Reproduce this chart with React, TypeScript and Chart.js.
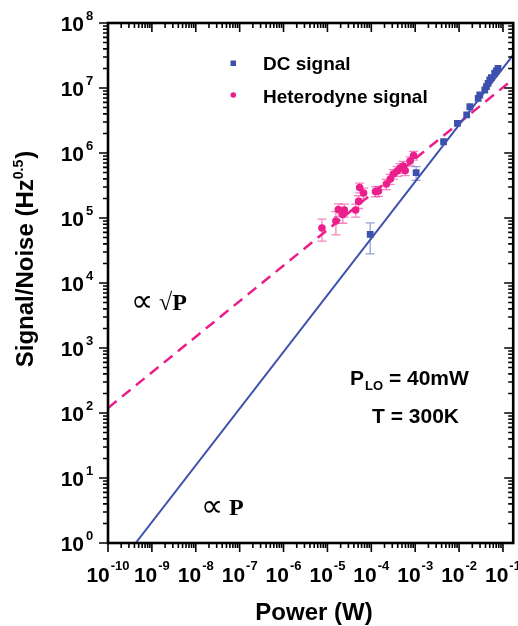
import React, { useEffect, useRef } from "react";
import { Chart, registerables } from "chart.js";
Chart.register(...registerables);

// ---- data ----
const dcPower = [9.44e-5, 1.05e-3, 4.43e-3, 9.16e-3, 1.49e-2, 1.76e-2, 2.72e-2, 2.96e-2, 3.85e-2, 4.2e-2, 4.58e-2, 4.99e-2, 5.44e-2, 6.46e-2, 7.06e-2, 7.71e-2];
const dcSignal = [5.61e4, 4.98e5, 1.49e6, 2.86e6, 3.85e6, 5.15e6, 6.93e6, 7.8e6, 9.31e6, 1.05e7, 1.18e7, 1.33e7, 1.44e7, 1.68e7, 1.83e7, 2.01e7];
const dcErr = [2.8e4, 1.2e5, 0, 0, 0, 0, 0, 0, 0, 0, 0, 0, 0, 0, 0, 0];

const hetPower = [7.5e-6, 1.56e-5, 1.77e-5, 2.42e-5, 2.24e-5, 4.4e-5, 5.14e-5, 5.42e-5, 6.67e-5, 1.245e-4, 1.455e-4, 2.2e-4, 2.71e-4, 3.17e-4, 3.9e-4, 4.56e-4, 5.33e-4, 5.92e-4, 7.67e-4, 9.2e-4];
const hetSignal = [7.0e4, 9.0e4, 1.35e5, 1.33e5, 1.13e5, 1.33e5, 1.8e5, 2.94e5, 2.43e5, 2.56e5, 2.6e5, 3.33e5, 3.98e5, 4.75e5, 5.28e5, 5.87e5, 6.31e5, 5.38e5, 7.53e5, 9.16e5];
const hetErr = [2.6e4, 3.5e4, 3.0e4, 3.0e4, 3.0e4, 3.0e4, 4.0e4, 5.0e4, 4.5e4, 4.5e4, 4.5e4, 6.0e4, 7.0e4, 8.0e4, 9.0e4, 1.0e5, 1.1e5, 9.0e4, 1.2e5, 1.4e5];

const dcFitPower = [4.27e-10, 0.171];
const dcFitSignal = [1, 3.23e7];
const hetFitPower = [1e-10, 0.171];
const hetFitSignal = [119.4, 1.37e7];

const xTickExps = [-10, -9, -8, -7, -6, -5, -4, -3, -2, -1];
const yTickExps = [0, 1, 2, 3, 4, 5, 6, 7, 8];

const xTitle = "Power (W)";
const yTitle = "Signal/Noise (Hz";
const yTitleSup = "0.5";
const legendLabels = ["DC signal", "Heterodyne signal"];

const PINK = "#EB1E8C";
const BLUE = "#3E50AE";
const SANS = '"Liberation Sans", Arial, sans-serif';
const SERIF = '"Liberation Serif", "DejaVu Serif", serif';

const pts = (xs: number[], ys: number[]) => xs.map((x, i) => ({ x, y: ys[i] }));

const errorBarPlugin = {
  id: "errbars",
  beforeDatasetsDraw(chart: any) {
    const { ctx, scales } = chart;
    const xs = scales.x, ys = scales.y;
    const draw = (px: number[], py: number[], pe: number[], color: string) => {
      ctx.save();
      ctx.strokeStyle = color;
      ctx.lineWidth = 1.3;
      px.forEach((p, i) => {
        if (!pe[i]) return;
        const x = xs.getPixelForValue(p);
        const yt = ys.getPixelForValue(py[i] + pe[i]);
        const yb = ys.getPixelForValue(Math.max(py[i] - pe[i], 1e-3));
        ctx.beginPath();
        ctx.moveTo(x, yt); ctx.lineTo(x, yb);
        ctx.moveTo(x - 4.5, yt); ctx.lineTo(x + 4.5, yt);
        ctx.moveTo(x - 4.5, yb); ctx.lineTo(x + 4.5, yb);
        ctx.stroke();
      });
      ctx.restore();
    };
    draw(hetPower, hetSignal, hetErr, "rgba(235,30,140,0.55)");
    draw(dcPower, dcSignal, dcErr, "rgba(62,80,174,0.55)");
  },
};

const framePlugin = {
  id: "frame",
  afterDatasetsDraw(chart: any) {
    const { ctx, chartArea: a, scales } = chart;
    const xs = scales.x, ys = scales.y;
    ctx.save();
    ctx.strokeStyle = "#000";
    ctx.lineCap = "butt";
    const majL = 9, minL = 5;
    ctx.lineWidth = 1.6;
    ctx.beginPath();
    for (let e = -10; e <= 0; e++) {
      for (let m = 1; m <= 9; m++) {
        const v = m * Math.pow(10, e);
        if (v < xs.min * 0.999 || v > xs.max) continue;
        const x = xs.getPixelForValue(v);
        const L = m === 1 ? majL : minL;
        ctx.moveTo(x, a.bottom); ctx.lineTo(x, a.bottom + L);
        ctx.moveTo(x, a.top); ctx.lineTo(x, a.top + L);
      }
    }
    for (let e = 0; e <= 8; e++) {
      for (let m = 1; m <= 9; m++) {
        const v = m * Math.pow(10, e);
        if (v > ys.max * 1.001) continue;
        const y = ys.getPixelForValue(v);
        const L = m === 1 ? majL : minL;
        ctx.moveTo(a.left, y); ctx.lineTo(a.left - L, y);
        ctx.moveTo(a.right, y); ctx.lineTo(a.right - L, y);
      }
    }
    ctx.stroke();
    ctx.lineWidth = 2.6;
    ctx.strokeRect(a.left, a.top, a.right - a.left, a.bottom - a.top);
    ctx.restore();
  },
  afterDraw(chart: any) {
    const { ctx, chartArea: a, scales } = chart;
    const xs = scales.x, ys = scales.y;
    ctx.save();
    ctx.fillStyle = "#000";
    ctx.textBaseline = "alphabetic";
    const baseFont = `bold 21px ${SANS}`;
    const supFont = `bold 13px ${SANS}`;
    // x tick labels
    xTickExps.forEach((e) => {
      const x = xs.getPixelForValue(Math.pow(10, e));
      ctx.font = baseFont;
      const wb = ctx.measureText("10").width;
      ctx.font = supFont;
      const sup = String(e);
      const ws = ctx.measureText(sup).width;
      const start = x - (wb + 1 + ws) / 2;
      ctx.textAlign = "left";
      ctx.font = baseFont;
      ctx.fillText("10", start, a.bottom + 39);
      ctx.font = supFont;
      ctx.fillText(sup, start + wb + 1, a.bottom + 27);
    });
    // y tick labels
    yTickExps.forEach((e) => {
      const y = ys.getPixelForValue(Math.pow(10, e));
      ctx.textAlign = "right";
      ctx.font = baseFont;
      ctx.fillText("10", a.left - 24, y + 7.5);
      ctx.textAlign = "left";
      ctx.font = supFont;
      ctx.fillText(String(e), a.left - 22, y - 3);
    });
    // x title
    ctx.textAlign = "center";
    ctx.font = `bold 24px ${SANS}`;
    ctx.fillText(xTitle, 314, 620);
    // y title (rotated)
    ctx.save();
    ctx.translate(33, 259);
    ctx.rotate(-Math.PI / 2);
    ctx.font = `bold 24px ${SANS}`;
    const w1 = ctx.measureText(yTitle).width;
    ctx.font = `bold 14px ${SANS}`;
    const w2 = ctx.measureText(yTitleSup).width;
    ctx.font = `bold 24px ${SANS}`;
    const w3 = ctx.measureText(")").width;
    const tot = w1 + w2 + w3 + 1;
    let sx = -tot / 2;
    ctx.textAlign = "left";
    ctx.fillText(yTitle, sx, 0);
    sx += w1;
    ctx.font = `bold 14px ${SANS}`;
    ctx.fillText(yTitleSup, sx, -10);
    sx += w2 + 1;
    ctx.font = `bold 24px ${SANS}`;
    ctx.fillText(")", sx, 0);
    ctx.restore();
    // legend
    ctx.fillStyle = BLUE;
    ctx.fillRect(230.5, 60.5, 5.5, 5.5);
    ctx.fillStyle = PINK;
    ctx.beginPath();
    ctx.arc(233.3, 95, 2.8, 0, Math.PI * 2);
    ctx.fill();
    ctx.fillStyle = "#000";
    ctx.textAlign = "left";
    ctx.font = `bold 19px ${SANS}`;
    ctx.fillText(legendLabels[0], 263, 70);
    ctx.fillText(legendLabels[1], 263, 102.5);
    // annotations
    ctx.font = `bold 21px ${SANS}`;
    ctx.fillText("P", 350, 385);
    const wp = ctx.measureText("P").width;
    ctx.font = `bold 13px ${SANS}`;
    ctx.fillText("LO", 350 + wp + 1, 390);
    const wlo = ctx.measureText("LO").width;
    ctx.font = `bold 21px ${SANS}`;
    ctx.fillText(" = 40mW", 350 + wp + 1 + wlo, 385);
    ctx.textAlign = "center";
    ctx.fillText("T = 300K", 415.5, 423);
    ctx.textAlign = "left";
    // proportionality marks
    const propFont = '31px "DejaVu Sans", sans-serif';
    const pFont = `bold 24px ${SERIF}`;
    ctx.font = propFont;
    ctx.fillText("\u221D", 131, 311);
    ctx.font = pFont;
    ctx.fillText("\u221AP", 159, 310);
    ctx.font = propFont;
    ctx.fillText("\u221D", 201, 516);
    ctx.font = pFont;
    ctx.fillText("P", 229, 515);
    ctx.restore();
  },
};

export default function App() {
  const ref = useRef<HTMLCanvasElement | null>(null);
  useEffect(() => {
    if (!ref.current) return;
    const chart = new Chart(ref.current, {
      type: "scatter",
      data: {
        datasets: [
          {
            label: "DC signal",
            data: pts(dcPower, dcSignal),
            pointStyle: "rect",
            pointRadius: 4.8,
            backgroundColor: BLUE,
            borderColor: BLUE,
            borderWidth: 0,
            order: 0,
          },
          {
            label: "Heterodyne signal",
            data: pts(hetPower, hetSignal),
            pointStyle: "circle",
            pointRadius: 3.8,
            backgroundColor: PINK,
            borderColor: PINK,
            borderWidth: 0,
            order: 0,
          },
          {
            label: "DC fit",
            data: pts(dcFitPower, dcFitSignal),
            showLine: true,
            pointRadius: 0,
            borderColor: BLUE,
            borderWidth: 2,
            order: 2,
          },
          {
            label: "Heterodyne fit",
            data: pts(hetFitPower, hetFitSignal),
            showLine: true,
            pointRadius: 0,
            borderColor: PINK,
            borderWidth: 2.5,
            borderDash: [11, 7],
            order: 2,
          },
        ],
      },
      options: {
        responsive: false,
        animation: false,
        layout: { padding: { left: 108, top: 23, right: 1, bottom: 83 } },
        plugins: { legend: { display: false }, tooltip: { enabled: false } },
        scales: {
          x: { type: "logarithmic", min: 1e-10, max: 0.171, display: false },
          y: { type: "logarithmic", min: 1, max: 1e8, display: false },
        },
      },
      plugins: [errorBarPlugin, framePlugin],
    });
    return () => chart.destroy();
  }, []);
  return (
    <canvas
      ref={ref}
      width={518}
      height={626}
      style={{ position: "absolute", left: 0, top: 0, display: "block", background: "#fff" }}
    />
  );
}
